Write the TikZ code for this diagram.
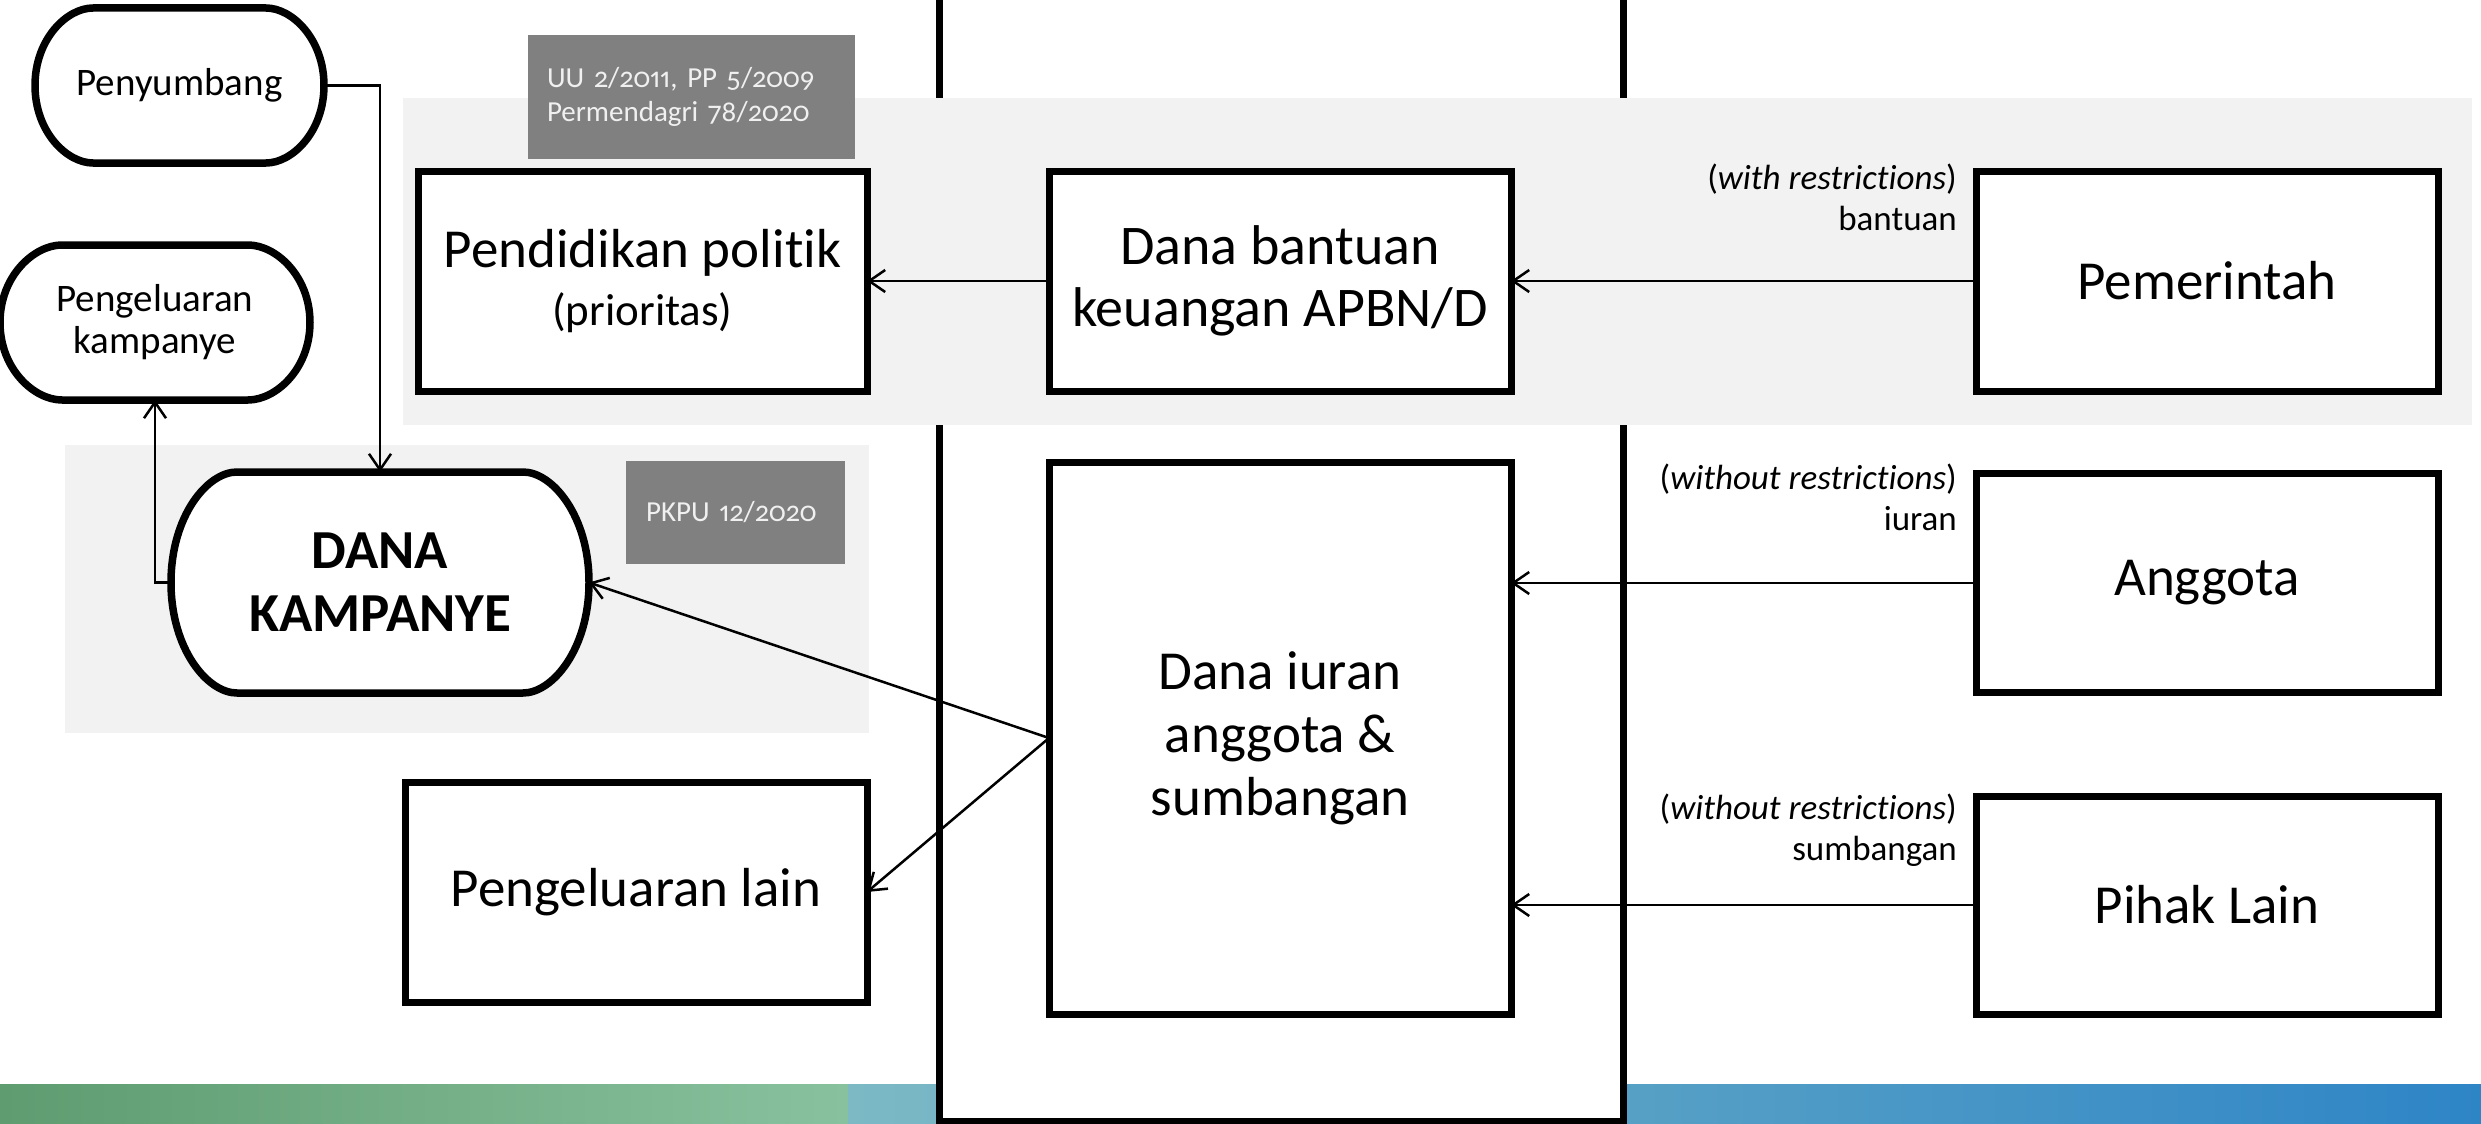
\documentclass[tikz,border=0pt]{standalone}
\usepackage{fontspec}
\setmainfont{Carlito}[Ligatures=NoCommon]
\newfontfamily\oldnum[Numbers={OldStyle,Proportional},Ligatures=NoCommon]{Carlito}
\usetikzlibrary{arrows.meta,calc}
\definecolor{bandgray}{HTML}{F2F2F2}
\definecolor{tagbg}{HTML}{808080}
\definecolor{tagtx}{HTML}{F0F0F0}
\definecolor{gA}{HTML}{5F9C70}
\definecolor{gB}{HTML}{88C19E}
\definecolor{bA}{HTML}{7CB9C5}
\definecolor{bB}{HTML}{2E85C6}
\pgfdeclarelayer{bg}\pgfdeclarelayer{mid}\pgfsetlayers{bg,mid,main}
\newcommand\capsuleshape[3]{%
  \draw[capline] ($(#1.north west)+(#2pt,0pt)$) -- ($(#1.north east)+(-#2pt,0pt)$)
    .. controls +({0.45*#2pt},0pt) and +(0pt,{0.6*#3pt}) .. (#1.east)
    .. controls +(0pt,{-0.6*#3pt}) and +({0.45*#2pt},0pt) .. ($(#1.south east)+(-#2pt,0pt)$)
    -- ($(#1.south west)+(#2pt,0pt)$)
    .. controls +({-0.45*#2pt},0pt) and +(0pt,{-0.6*#3pt}) .. (#1.west)
    .. controls +(0pt,{0.6*#3pt}) and +({-0.45*#2pt},0pt) .. ($(#1.north west)+(#2pt,0pt)$) -- cycle;}
\begin{document}
\begin{tikzpicture}[x=1pt,y=-1pt,
  box/.style={draw,line width=7pt,fill=white,inner sep=0pt,outer sep=0pt,align=center,font=\fontsize{55}{62}\selectfont},
  capnode/.style={inner sep=0pt,outer sep=0pt,align=center},
  capline/.style={draw,line width=7.5pt,fill=white,line join=round},
  arr/.style={line width=2.5pt,-{Straight Barb[length=16pt,width=22pt]}},
  lbl/.style={anchor=east,align=right,inner sep=0pt,font=\fontsize{35}{41}\selectfont},
  tagbox/.style={fill=tagbg,inner ysep=0pt,outer sep=0pt,text=tagtx,align=left,font=\oldnum\fontsize{29}{34}\selectfont}
]
\useasboundingbox (0,0) rectangle (2481,1124);
\clip (0,0) rectangle (2481,1124);

\begin{pgfonlayer}{bg}
  \shade[left color=gA,right color=gB] (0,1084) rectangle (848,1124);
  \shade[left color=bA,right color=bB] (848,1084) rectangle (2481,1124);
  \draw[line width=7pt,fill=white] (939,-20) rectangle (1623,1121);
  \fill[bandgray] (403,98) rectangle (2472,425);
  \fill[bandgray] (65,445) rectangle (869,733);
\end{pgfonlayer}

% regulation tags
\node[tagbox,inner xsep=19pt,text width=289pt,minimum height=124pt] (t1) at (691.5,97) {UU 2/2011, PP 5/2009\\Permendagri 78/2020};
\node[tagbox,inner xsep=20pt,text width=179pt,minimum height=103pt] (t2) at (735.5,512.5) {PKPU 12/2020};

% rounded nodes
\node[capnode,minimum width=289pt,minimum height=155pt,font=\fontsize{39}{42}\selectfont] (peny) at (179.5,85.5) {Penyumbang};
\node[capnode,minimum width=310pt,minimum height=155pt,font=\fontsize{39}{42}\selectfont] (pk) at (155,322.5) {Pengeluaran\\kampanye};
\node[capnode,minimum width=418pt,minimum height=221pt,font=\bfseries\fontsize{55}{63}\selectfont] (dk) at (380,582.5) {DANA\\KAMPANYE};
\begin{pgfonlayer}{mid}
  \capsuleshape{peny}{58}{77.5}
  \capsuleshape{pk}{62}{77.5}
  \capsuleshape{dk}{66}{110.5}
\end{pgfonlayer}

% boxes
\node[box,minimum width=449pt,minimum height=220pt,font=\fontsize{55}{58}\selectfont] (pp) at (642.5,281) {Pendidikan politik\\{\fontsize{45}{58}\selectfont (prioritas)}};
\node[box,minimum width=462pt,minimum height=220pt,font=\fontsize{56}{62}\selectfont] (db) at (1280,281) {Dana bantuan\\keuangan APBN/D};
\node[box,minimum width=462pt,minimum height=220pt] (pem) at (2207,281) {Pemerintah};
\node[box,minimum width=462pt,minimum height=552pt,font=\fontsize{55}{63}\selectfont] (di) at (1280,738) {Dana iuran\\anggota \&\\sumbangan};
\node[box,minimum width=462pt,minimum height=219pt] (ang) at (2207,583) {Anggota};
\node[box,minimum width=462pt,minimum height=218pt] (pl) at (2207,905) {Pihak Lain};
\node[box,minimum width=462pt,minimum height=220pt] (pel) at (636,892) {Pengeluaran lain};

% labels
\node[lbl] (l1) at (1957,197) {(\textit{with restrictions})\\bantuan};
\node[lbl] (l2) at (1957,497) {(\textit{without restrictions})\\iuran};
\node[lbl] (l3) at (1957,830) {(\textit{without restrictions})\\sumbangan};

% connectors
\draw[arr] (pem.west) -- (db.east);
\draw[arr] (db.west) -- (pp.east);
\draw[arr] (ang.west) -- (ang.west -| di.east);
\draw[arr] (pl.west) -- (pl.west -| di.east);
\draw[arr] (di.west) -- (dk.east);
\draw[arr] (di.west) -- (pel.east);
\draw[arr] (peny.east) -| (dk.north);
\draw[arr] (dk.west) -| (pk.south);
\end{tikzpicture}
\end{document}
